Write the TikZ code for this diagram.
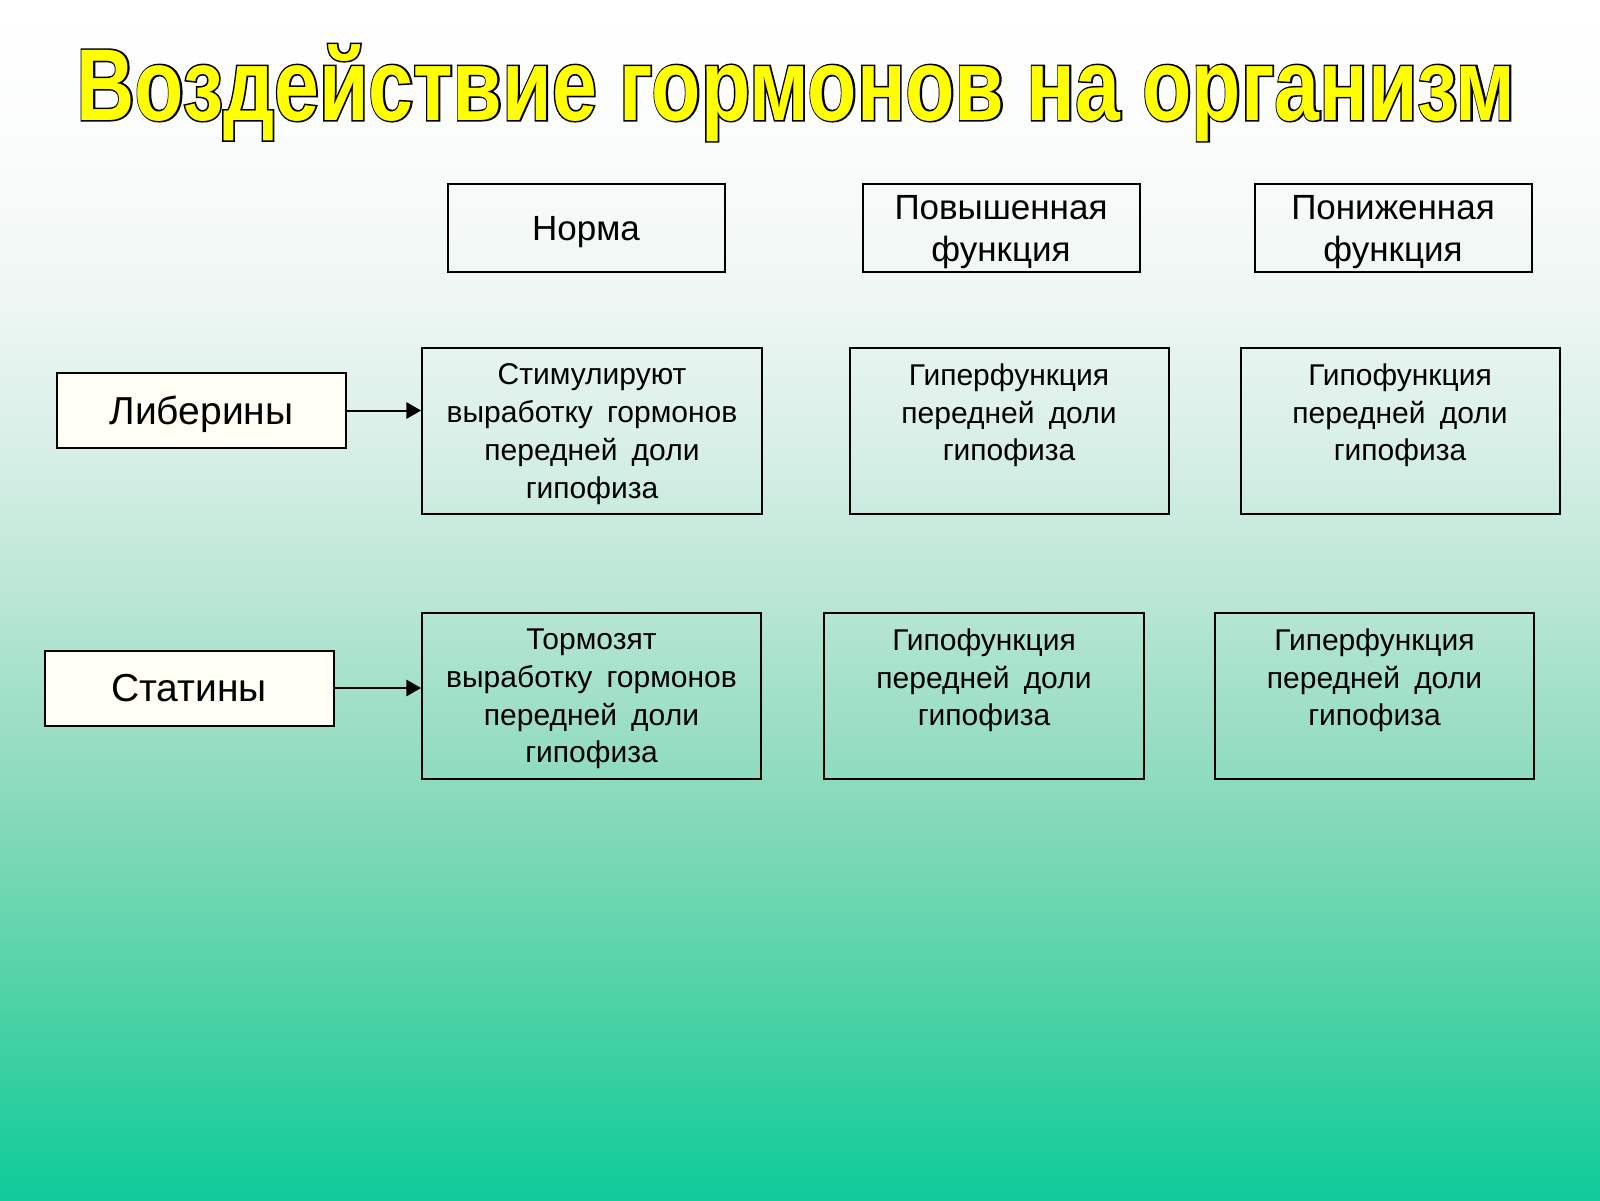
\documentclass[tikz,border=0pt]{standalone}
\usepackage{fontspec}
\setmainfont{Liberation Sans}[WordSpace=1.7]
\newfontfamily\titlefont{Liberation Sans Bold}[FakeStretch=0.79]
\newfontfamily\titleedge{Liberation Sans Bold}[FakeStretch=0.79,FakeBold=3]
\usepackage{tikz}
\usetikzlibrary{arrows}
\usepackage{xcolor}

\definecolor{bgA}{RGB}{14,203,153}
\definecolor{bgB}{RGB}{78,210,166}
\definecolor{bgC}{RGB}{137,218,187}
\definecolor{bgD}{RGB}{185,230,213}
\definecolor{bgE}{RGB}{215,239,230}
\definecolor{bgF}{RGB}{238,246,243}
\definecolor{bgG}{RGB}{250,252,251}
\definecolor{boxfill}{RGB}{255,255,245}
\definecolor{titleyellow}{RGB}{255,255,0}

\pgfdeclareverticalshading{slidebg}{100bp}{color(0bp)=(bgA); color(25bp)=(bgA);
  color(33.33bp)=(bgB); color(41.67bp)=(bgC); color(50bp)=(bgD);
  color(56.25bp)=(bgE); color(62.5bp)=(bgF); color(68.75bp)=(bgG);
  color(75bp)=(white); color(100bp)=(white)}

\begin{document}
\begin{tikzpicture} [x=0.5pt, y=-0.5pt,
    hdr/.style={draw, line width=1pt, minimum width=138.5pt, minimum height=44pt,
      align=center, inner sep=0pt, text depth=0pt, font=\fontsize{17.5}{21}\selectfont},
    cell/.style={draw, line width=1pt, minimum width=159.5pt, minimum height=83pt,
      align=center, inner sep=0pt, text depth=0pt, font=\fontsize{15}{18.85}\selectfont},
    agent/.style={draw, line width=1pt, fill=boxfill, minimum width=144.5pt,
      minimum height=37.5pt, text depth=0pt, font=\fontsize{19.5}{23}\selectfont}
  ]
  \useasboundingbox (0,0) rectangle (1600,1200);
  \shade[shading=slidebg] (0,0) rectangle (1600,1200);

  % title
  \node[anchor=base, text=black, font=\titleedge\fontsize{51}{60}\selectfont]
    (titleedge) at (796,120) {Воздействие гормонов на организм};
  \node[anchor=base, text=titleyellow, font=\titlefont\fontsize{51}{60}\selectfont]
    (title) at (796,120) {Воздействие гормонов на организм};

  % column heads
  \node[hdr] (norm) at (586,228) {Норма};
  \node[hdr] (raised) at (1001,228) {Повышенная\\функция};
  \node[hdr] (lowered) at (1393,228) {Пониженная\\функция};

  % liberins
  \node[agent] (lib) at (201.5,410.5) {Либерины};
  \node[cell, minimum width=170pt] (stim) at (592,431)
    {Стимулируют\\выработку гормонов\\передней доли\\гипофиза};
  \node[cell] (libhyper) at (1009,431) {Гиперфункция\\передней доли\\гипофиза\\\mbox{}};
  \node[cell] (libhypo) at (1400,431) {Гипофункция\\передней доли\\гипофиза\\\mbox{}};

  % statins
  \node[agent] (stat) at (189,688) {Статины};
  \node[cell, minimum width=169.5pt] (inhib) at (591.5,696)
    {Тормозят\\выработку гормонов\\передней доли\\гипофиза};
  \node[cell, minimum width=160pt] (stathypo) at (984,696) {Гипофункция\\передней доли\\гипофиза\\\mbox{}};
  \node[cell] (stathyper) at (1374.5,696) {Гиперфункция\\передней доли\\гипофиза\\\mbox{}};

  \path[->, line width=1pt, >=triangle 60]
  (lib) edge (lib -| stim.west)
  (stat) edge (stat -| inhib.west)
  ;
\end{tikzpicture}
\end{document}
